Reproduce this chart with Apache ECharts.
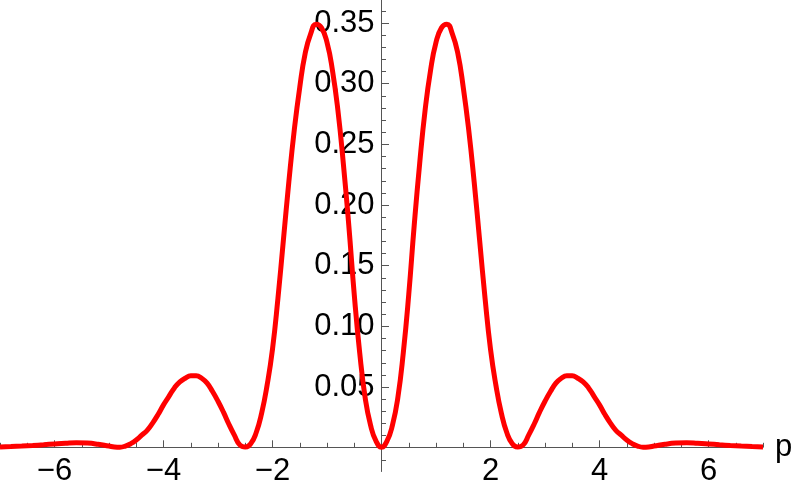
<!DOCTYPE html>
<html>
<head>
<meta charset="utf-8">
<script src="https://cdn.jsdelivr.net/npm/echarts@6/dist/echarts.min.js"></script>
<style>
html,body{margin:0;padding:0;background:#fff;}
#chart{width:793px;height:492px;}
</style>
</head>
<body>
<div id="chart"></div>
<script>
// momentum values p
const pValues = [
  -7.0,-6.8,-6.6,-6.4,-6.2,-6.0,-5.8,-5.6,-5.4,-5.2,
  -5.0,-4.9,-4.8,-4.7,-4.6,-4.5,-4.4,-4.3,-4.2,-4.1,
  -4.0,-3.9,-3.8,-3.7,-3.6,-3.5,-3.4,-3.3,-3.2,-3.1,
  -3.0,-2.9,-2.8,-2.7,-2.6,-2.5,-2.4,-2.3,-2.2,-2.1,
  -2.0,-1.9,-1.8,-1.7,-1.6,-1.5,-1.4,-1.3,-1.2,-1.1,
  -1.0,-0.9,-0.8,-0.7,-0.6,-0.5,-0.4,-0.3,-0.2,-0.1,
  0.0,
  0.1,0.2,0.3,0.4,0.5,0.6,0.7,0.8,0.9,1.0,
  1.1,1.2,1.3,1.4,1.5,1.6,1.7,1.8,1.9,2.0,
  2.1,2.2,2.3,2.4,2.5,2.6,2.7,2.8,2.9,3.0,
  3.1,3.2,3.3,3.4,3.5,3.6,3.7,3.8,3.9,4.0,
  4.1,4.2,4.3,4.4,4.5,4.6,4.7,4.8,4.9,5.0,
  5.2,5.4,5.6,5.8,6.0,6.2,6.4,6.6,6.8,7.0
];
// probability density
const densityValues = [
  0.0003,0.0006,0.001,0.0015,0.0021,0.0028,0.0034,0.0038,0.0035,0.0025,
  0.001,0.0003,0.0001,0.001,0.003,0.006,0.010,0.014,0.020,0.027,
  0.035,0.042,0.049,0.054,0.057,0.059,0.059,0.057,0.053,0.046,
  0.038,0.029,0.019,0.010,0.002,0.0002,0.003,0.012,0.028,0.051,
  0.081,0.123,0.171,0.219,0.262,0.297,0.325,0.341,0.349,0.346,
  0.334,0.311,0.278,0.234,0.183,0.126,0.078,0.041,0.018,0.005,
  0.0,
  0.005,0.018,0.041,0.078,0.126,0.183,0.234,0.278,0.311,0.334,
  0.346,0.349,0.341,0.325,0.297,0.262,0.219,0.171,0.123,0.081,
  0.051,0.028,0.012,0.003,0.0002,0.002,0.010,0.019,0.029,0.038,
  0.046,0.053,0.057,0.059,0.059,0.057,0.054,0.049,0.042,0.035,
  0.027,0.020,0.014,0.010,0.006,0.003,0.001,0.0001,0.0003,0.001,
  0.0025,0.0035,0.0038,0.0034,0.0028,0.0021,0.0015,0.001,0.0006,0.0003
];
// tick labels and tick positions
const xLabelValues = [-6,-4,-2,2,4,6];
const xMajorTicks = [-6,-4,-2,0,2,4,6];
const xMinorTicks = [-7,-6.5,-6,-5.5,-5,-4.5,-4,-3.5,-3,-2.5,-2,-1.5,-1,-0.5,0,0.5,1,1.5,2,2.5,3,3.5,4,4.5,5,5.5,6,6.5,7];
const yLabelValues = [0.05,0.10,0.15,0.20,0.25,0.30,0.35];
const yMinorTicks = [-0.01,0.01,0.02,0.03,0.04,0.06,0.07,0.08,0.09,0.11,0.12,0.13,0.14,0.16,0.17,0.18,0.19,0.21,0.22,0.23,0.24,0.26,0.27,0.28,0.29,0.31,0.32,0.33,0.34,0.36];
const xAxisName = 'p';

const X_MIN = -7, X_MAX = 7, Y_MIN = -0.0196, Y_MAX = 0.369;
const AXIS_COLOR = '#555555';
const FONT = '"Liberation Sans", Arial, sans-serif';
const FONT_SIZE = 31;

const chart = echarts.init(document.getElementById('chart'), null, {renderer: 'canvas'});
const fmtX = v => (v < 0 ? '\u2212' + Math.abs(v) : String(v));
const noLine = {show: true, onZero: false, lineStyle: {color: 'rgba(0,0,0,0)'}};

chart.setOption({
  animation: false,
  backgroundColor: '#ffffff',
  grid: [
    // plot area: bottom edge is the p axis (density 0)
    {left: 0, right: 30, top: 0, bottom: 44.7, containLabel: false, outerBoundsMode: 'none'},
    // vertical axis area: left edge is p = 0
    {left: 381.5, right: 0, top: 0, bottom: 20.5, containLabel: false, outerBoundsMode: 'none'}
  ],
  xAxis: [
    {
      gridIndex: 0, type: 'value', min: X_MIN, max: X_MAX, position: 'bottom',
      name: xAxisName, nameLocation: 'end', nameGap: 12,
      nameTextStyle: {fontSize: FONT_SIZE, color: '#000', fontFamily: FONT},
      axisLine: {show: true, onZero: false, lineStyle: {color: AXIS_COLOR, width: 1}},
      axisTick: {show: true, inside: true, length: 7, customValues: xMajorTicks, lineStyle: {color: AXIS_COLOR, width: 1}},
      axisLabel: {show: true, customValues: xLabelValues, formatter: fmtX, fontSize: FONT_SIZE, color: '#000', fontFamily: FONT, margin: 9},
      splitLine: {show: false}
    },
    {
      gridIndex: 0, type: 'value', min: X_MIN, max: X_MAX, position: 'bottom',
      axisLine: noLine,
      axisTick: {show: true, inside: true, length: 4.5, customValues: xMinorTicks, lineStyle: {color: AXIS_COLOR, width: 1}},
      axisLabel: {show: false},
      splitLine: {show: false}
    },
    {
      gridIndex: 1, type: 'value', min: 0, max: 1, show: false
    }
  ],
  yAxis: [
    {
      gridIndex: 0, type: 'value', min: 0, max: Y_MAX, show: false
    },
    {
      gridIndex: 1, type: 'value', min: Y_MIN, max: Y_MAX, position: 'left',
      axisLine: {show: true, onZero: false, lineStyle: {color: AXIS_COLOR, width: 1}},
      axisTick: {show: true, inside: true, length: 7.5, customValues: yLabelValues, lineStyle: {color: AXIS_COLOR, width: 1}},
      axisLabel: {show: true, customValues: yLabelValues, formatter: v => v.toFixed(2), fontSize: FONT_SIZE, color: '#000', fontFamily: FONT, margin: 7},
      splitLine: {show: false}
    },
    {
      gridIndex: 1, type: 'value', min: Y_MIN, max: Y_MAX, position: 'left',
      axisLine: noLine,
      axisTick: {show: true, inside: true, length: 4.5, customValues: yMinorTicks, lineStyle: {color: AXIS_COLOR, width: 1}},
      axisLabel: {show: false},
      splitLine: {show: false}
    }
  ],
  series: [{
    type: 'line',
    xAxisIndex: 0, yAxisIndex: 0,
    data: pValues.map((p, i) => [p, densityValues[i]]),
    showSymbol: false,
    smooth: 0.5,
    clip: false,
    lineStyle: {color: '#ff0000', width: 5},
    z: 5
  }]
});
</script>
</body>
</html>
